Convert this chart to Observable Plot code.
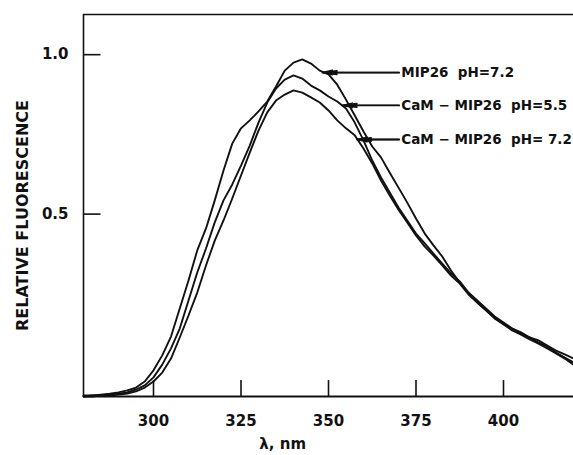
<!DOCTYPE html>
<html><head><meta charset="utf-8">
<script src="https://cdn.jsdelivr.net/npm/d3@7"></script>
<script src="https://cdn.jsdelivr.net/npm/@observablehq/plot@0.6"></script>
<style>html,body{margin:0;padding:0;background:#fff;} svg{display:block;}</style>
</head><body><div id="chart"></div>
<script>
const wavelength = [280,282.5,285,287.5,290,292.5,295,297.5,300,302.5,305,307.5,310,312.5,315,317.5,320,322.5,325,327.5,330,332.5,335,337.5,340,342.5,345,347.5,350,352.5,355,357.5,360,362.5,365,367.5,370,372.5,375,377.5,380,382.5,385,387.5,390,392.5,395,397.5,400,402.5,405,407.5,410,412.5,415,417.5,420];

const mip26_pH72 = [-0.069,-0.069,-0.066,-0.063,-0.059,-0.053,-0.044,-0.025,0.010,0.057,0.116,0.204,0.292,0.386,0.455,0.543,0.637,0.721,0.769,0.794,0.822,0.853,0.900,0.950,0.975,0.985,0.972,0.950,0.938,0.906,0.859,0.809,0.759,0.712,0.678,0.630,0.583,0.536,0.486,0.439,0.402,0.367,0.323,0.285,0.251,0.223,0.198,0.173,0.157,0.141,0.129,0.113,0.104,0.088,0.072,0.060,0.047];
const camMip26_pH55 = [-0.072,-0.069,-0.069,-0.066,-0.063,-0.059,-0.050,-0.037,-0.012,0.028,0.079,0.141,0.229,0.317,0.392,0.474,0.543,0.593,0.652,0.715,0.787,0.850,0.894,0.922,0.935,0.925,0.903,0.888,0.869,0.853,0.831,0.787,0.731,0.668,0.615,0.568,0.521,0.480,0.439,0.408,0.376,0.345,0.314,0.289,0.254,0.229,0.204,0.179,0.160,0.141,0.126,0.113,0.097,0.085,0.066,0.050,0.035];
const camMip26_pH72 = [-0.072,-0.072,-0.069,-0.069,-0.066,-0.063,-0.056,-0.044,-0.025,0.003,0.047,0.113,0.182,0.254,0.339,0.417,0.480,0.549,0.621,0.693,0.762,0.819,0.856,0.875,0.888,0.881,0.866,0.850,0.825,0.794,0.769,0.747,0.706,0.659,0.605,0.558,0.514,0.474,0.433,0.398,0.370,0.339,0.307,0.282,0.248,0.223,0.198,0.173,0.154,0.135,0.122,0.107,0.094,0.079,0.063,0.047,0.028];

const seriesNames = ["MIP26\u00a0\u00a0pH=7.2", "CaM \u2212 MIP26\u00a0\u00a0pH=5.5", "CaM \u2212 MIP26\u00a0\u00a0pH= 7.2"];
const seriesValues = [mip26_pH72, camMip26_pH55, camMip26_pH72];

// annotation: label, arrow tip (on curve), arrow tail / label start
const labelTipX = [348.3, 354.0, 358.2];
const labelTipY = [0.944, 0.841, 0.734];
const labelTailX = 370.2;
const labelTextX = 370.8;

const xTicks = [300, 325, 350, 375, 400];
const yTicks = [0.5, 1.0];
const xDomain = [280, 420];
const yDomain = [-0.072, 1.126];

const rows = [];
seriesValues.forEach((vals, s) => wavelength.forEach((w, i) => rows.push({sample: seriesNames[s], wavelength: w, value: vals[i]})));
const notes = seriesNames.map((name, i) => ({name, tipX: labelTipX[i], tipY: labelTipY[i], tailX: labelTailX, textX: labelTextX}));

const font = "DejaVu Sans";
const chart = Plot.plot({
  width: 573, height: 455,
  marginLeft: 83, marginRight: 0, marginTop: 14, marginBottom: 59,
  style: {fontFamily: font, background: "#fff", color: "#111"},
  x: {domain: xDomain},
  y: {domain: yDomain},
  marks: [
    // frame
    Plot.ruleY([yDomain[1]], {stroke: "#111", strokeWidth: 1.6}),
    Plot.ruleY([yDomain[0]], {stroke: "#111", strokeWidth: 1.8}),
    Plot.ruleX([xDomain[0]], {y1: yDomain[0], y2: yDomain[1], stroke: "#111", strokeWidth: 1.6}),
    // inward ticks
    Plot.ruleY(yTicks, {y: d => d, x1: xDomain[0], x2: xDomain[0] + 5, stroke: "#111", strokeWidth: 1.6}),
    Plot.ruleX(xTicks, {x: d => d, y1: yDomain[0], y2: yDomain[0] + 0.05, stroke: "#111", strokeWidth: 1.6}),
    Plot.axisY(yTicks, {tickSize: 0, tickPadding: 15, tickFormat: d3.format(".1f"), label: null, fontSize: 15, fontWeight: "bold", fontFamily: font}),
    Plot.axisX(xTicks, {tickSize: 0, tickPadding: 19, tickFormat: d => String(d), label: null, fontSize: 15, fontWeight: "bold", fontFamily: font}),
    Plot.text(["RELATIVE FLUORESCENCE"], {frameAnchor: "left", textAnchor: "middle", lineAnchor: "middle", rotate: -90, dx: -61, dy: 10, fontSize: 16, fontWeight: "bold", fontFamily: font}),
    Plot.text(["\u03bb, nm"], {x: 336.9, frameAnchor: "bottom", dy: 52, fontSize: 15, fontWeight: "bold", fontFamily: font}),
    // curves
    Plot.line(rows, {x: "wavelength", y: "value", z: "sample", stroke: "#111", strokeWidth: 1.9}),
    // annotations (narrow, nearly filled heads)
    Plot.arrow(notes, {x1: "tailX", y1: "tipY", x2: "tipX", y2: "tipY", stroke: "#111", strokeWidth: 1.8, headLength: 12, headAngle: 14}),
    Plot.arrow(notes, {x1: "tailX", y1: "tipY", x2: "tipX", y2: "tipY", stroke: "#111", strokeWidth: 1.4, headLength: 11, headAngle: 26}),
    Plot.text(notes, {x: "textX", y: "tipY", text: "name", textAnchor: "start", fontSize: 13.5, fontWeight: "bold", fontFamily: font, fill: "#111"})
  ]
});
document.getElementById("chart").appendChild(chart);
</script>
</body></html>
